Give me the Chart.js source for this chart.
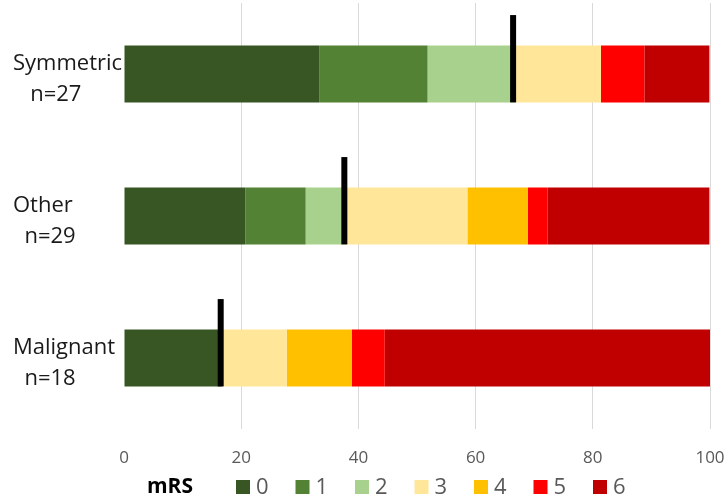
<!DOCTYPE html>
<html><head><meta charset="utf-8">
<script src="https://cdn.jsdelivr.net/npm/chart.js@4.4.1/dist/chart.umd.min.js"></script>
<style>html,body{margin:0;padding:0;background:#fff}</style>
</head><body>
<canvas id="c" width="725" height="496"></canvas>
<script>
// ---- data ----
const groups = ['Symmetric', 'Other', 'Malignant'];
const groupN = ['n=27', 'n=29', 'n=18'];
const labelIndent = ['   ', '  ', '  '];
const scoreLabels = ['0', '1', '2', '3', '4', '5', '6'];
// percentage of patients per mRS score, per group
const mrs0 = [33.3, 20.7, 16.7];
const mrs1 = [18.5, 10.3, 0];
const mrs2 = [14.8, 6.9, 0];
const mrs3 = [14.8, 20.7, 11.1];
const mrs4 = [0, 10.3, 11.1];
const mrs5 = [7.4, 3.4, 5.6];
const mrs6 = [11.1, 27.6, 55.5];
const medians = [66.4, 37.6, 16.5];
const xTickValues = [0, 20, 40, 60, 80, 100];

const colors = ['#375623', '#548235', '#A9D18E', '#FFE699', '#FFC000', '#FF0000', '#C00000'];
const series = [mrs0, mrs1, mrs2, mrs3, mrs4, mrs5, mrs6];

const categoryLabels = groups.map((g, i) => [g, labelIndent[i] + groupN[i]]);

const medianPlugin = {
  id: 'medianMarks',
  afterDatasetsDraw(chart) {
    const { ctx, scales: { x, y } } = chart;
    const band = y.getPixelForValue(1) - y.getPixelForValue(0);
    ctx.save();
    ctx.fillStyle = '#000000';
    medians.forEach((m, i) => {
      const px = x.getPixelForValue(m);
      const cy = y.getPixelForValue(i);
      const top = cy - band * 0.415;
      const bottom = cy + band * 0.2;
      ctx.fillRect(px - 3, top, 6, bottom - top);
    });
    ctx.restore();
  }
};

const legendPlugin = {
  id: 'mrsLegend',
  afterDraw(chart) {
    const ctx = chart.ctx;
    const y0 = 487;
    ctx.save();
    ctx.textBaseline = 'middle';
    ctx.textAlign = 'left';
    ctx.font = 'bold 21px "Open Sans"';
    ctx.fillStyle = '#000000';
    ctx.fillText('mRS', 147, y0);
    let x = 236;
    ctx.font = '22px "Open Sans"';
    chart.data.datasets.forEach(ds => {
      ctx.fillStyle = ds.backgroundColor;
      ctx.fillRect(x, y0 - 7, 14, 14);
      ctx.fillStyle = '#595959';
      ctx.fillText(ds.label, x + 20, y0 + 1);
      x += 59.5;
    });
    ctx.restore();
  }
};

new Chart(document.getElementById('c'), {
  type: 'bar',
  data: {
    labels: categoryLabels,
    datasets: series.map((d, i) => ({
      label: scoreLabels[i],
      data: d,
      backgroundColor: colors[i],
      borderWidth: 0,
      barPercentage: 0.4,
      categoryPercentage: 1
    }))
  },
  options: {
    indexAxis: 'y',
    responsive: false,
    animation: false,
    layout: { padding: { left: 13, right: 15, top: 3, bottom: 0 } },
    plugins: { legend: { display: false }, tooltip: { enabled: false } },
    scales: {
      x: {
        stacked: true,
        min: 0, max: 100,
        afterBuildTicks(scale) { scale.ticks = xTickValues.map(v => ({ value: v })); },
        afterFit(scale) {
          scale.height = 67;
          scale.paddingLeft = 0; scale.paddingRight = 0;
        },
        ticks: { color: '#595959', font: { family: 'Open Sans', size: 17 }, padding: 19 },
        grid: {
          color: c => (c.tick && c.tick.value === 0) ? 'rgba(0,0,0,0)' : '#D9D9D9',
          lineWidth: 1,
          drawTicks: false
        },
        border: { display: false }
      },
      y: {
        stacked: true,
        afterFit(scale) {
          scale.width = 111;
          scale.paddingTop = 0; scale.paddingBottom = 0;
        },
        ticks: {
          crossAlign: 'far',
          color: '#1a1a1a',
          font: { family: 'Open Sans', size: 22, lineHeight: 1.4 },
          padding: 0,
          labelOffset: 5
        },
        grid: { display: false },
        border: { display: false }
      }
    }
  },
  plugins: [medianPlugin, legendPlugin]
});
</script>
</body></html>
